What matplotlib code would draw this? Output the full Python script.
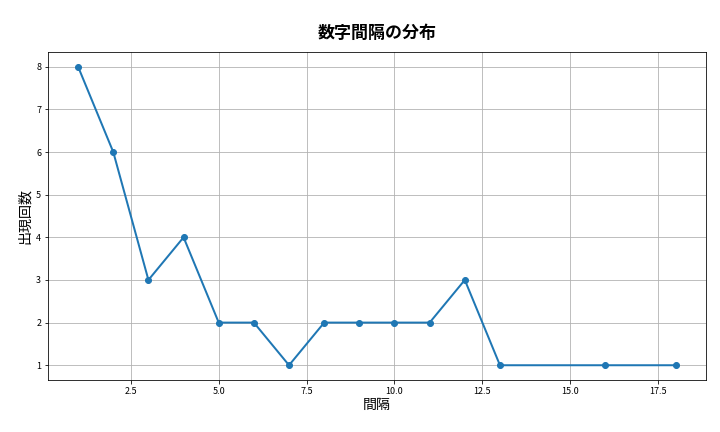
import matplotlib
matplotlib.use("Agg")
import matplotlib.pyplot as plt

plt.rcParams['font.family'] = ['Noto Sans CJK JP', 'DejaVu Sans']

# 間隔ごとの出現回数
gaps = [1, 2, 3, 4, 5, 6, 7, 8, 9, 10, 11, 12, 13, 16, 18]
counts = [8, 6, 3, 4, 2, 2, 1, 2, 2, 2, 2, 3, 1, 1, 1]

fig, ax = plt.subplots(figsize=(10, 6), dpi=72)
ax.plot(gaps, counts, marker='o', color='#1f77b4', linewidth=2, markersize=6)
ax.set_title('数字間隔の分布', fontsize=17, fontweight='bold', pad=14)
ax.set_xlabel('間隔', fontsize=14, labelpad=2)
ax.set_ylabel('出現回数', fontsize=14)
ax.tick_params(labelsize=9)
ax.grid(True)

plt.subplots_adjust(left=0.067, right=0.98, top=0.88, bottom=0.12)
plt.savefig('out.png')
